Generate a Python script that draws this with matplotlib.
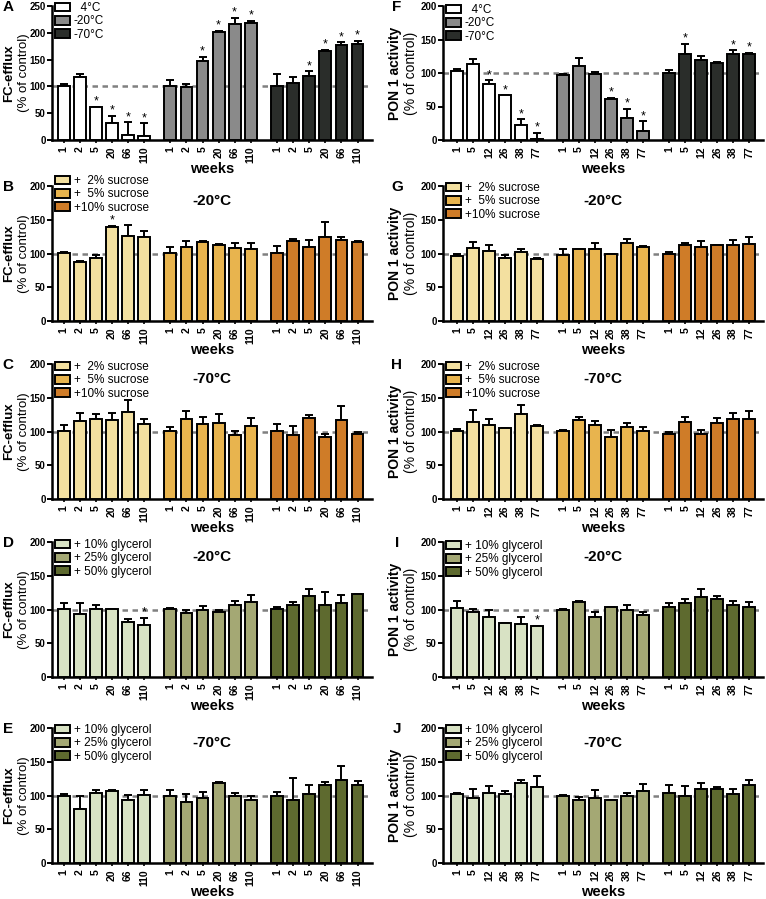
import numpy as np
import matplotlib
matplotlib.use('Agg')
import matplotlib.pyplot as plt
from matplotlib.patches import Patch

plt.rcParams['font.family'] = ['Liberation Sans', 'DejaVu Sans']

# ---------------- data ----------------
weeks_fc = ['1', '2', '5', '20', '66', '110']
weeks_pon = ['1', '5', '12', '26', '38', '77']

temp_labels = ['  4°C', '-20°C', '-70°C']
sucrose_labels = ['+  2% sucrose', '+  5% sucrose', '+10% sucrose']
glycerol_labels = ['+ 10% glycerol', '+ 25% glycerol', '+ 50% glycerol']

# Panel A: FC-efflux, storage temperature
a_4c = [101, 117, 62, 31, 10, 8]
a_4c_err = [3, 6, 0, 14, 23, 23]
a_4c_sig = [0, 0, 1, 1, 1, 1]
a_m20 = [101, 98, 148, 201, 216, 219]
a_m20_err = [11, 7, 7, 3, 12, 3]
a_m20_sig = [0, 0, 1, 1, 1, 1]
a_m70 = [101, 107, 120, 166, 178, 180]
a_m70_err = [22, 10, 8, 2, 4, 5]
a_m70_sig = [0, 0, 1, 1, 1, 1]

# Panel F: PON1 activity, storage temperature
f_4c = [103, 113, 84, 67, 22, 2]
f_4c_err = [3, 8, 5, 0, 9, 9]
f_4c_sig = [0, 0, 1, 1, 1, 1]
f_m20 = [97, 110, 99, 61, 33, 14]
f_m20_err = [2, 12, 2, 2, 14, 14]
f_m20_sig = [0, 0, 0, 1, 1, 1]
f_m70 = [100, 129, 119, 115, 128, 128]
f_m70_err = [5, 15, 7, 1, 6, 2]
f_m70_sig = [0, 1, 0, 0, 1, 1]

# Panel B: FC-efflux, -20°C, sucrose
b_s2 = [101, 88, 93, 140, 126, 124]
b_s2_err = [1, 1, 5, 1, 16, 10]
b_s2_sig = [0, 0, 0, 1, 0, 0]
b_s5 = [101, 110, 117, 113, 108, 106]
b_s5_err = [8, 8, 1, 1, 8, 9]
b_s10 = [101, 119, 110, 125, 120, 117]
b_s10_err = [10, 2, 10, 22, 4, 2]

# Panel G: PON1, -20°C, sucrose
g_s2 = [96, 108, 103, 94, 102, 92]
g_s2_err = [4, 9, 10, 4, 5, 1]
g_s5 = [98, 106, 107, 99, 115, 109]
g_s5_err = [8, 1, 9, 1, 6, 2]
g_s10 = [100, 113, 110, 113, 113, 114]
g_s10_err = [2, 3, 9, 0, 7, 11]

# Panel C: FC-efflux, -70°C, sucrose
c_s2 = [101, 115, 119, 117, 129, 111]
c_s2_err = [8, 13, 7, 10, 17, 8]
c_s5 = [101, 119, 111, 113, 95, 108]
c_s5_err = [5, 11, 10, 13, 6, 12]
c_s10 = [101, 95, 120, 92, 117, 97]
c_s10_err = [10, 13, 4, 5, 21, 3]

# Panel H: PON1, -70°C, sucrose
h_s2 = [101, 114, 109, 105, 126, 108]
h_s2_err = [3, 18, 9, 0, 13, 1]
h_s5 = [101, 117, 109, 92, 107, 101]
h_s5_err = [1, 5, 6, 10, 6, 6]
h_s10 = [97, 114, 96, 113, 119, 119]
h_s10_err = [2, 8, 6, 7, 9, 12]

# Panel D: FC-efflux, -20°C, glycerol
d_g10 = [101, 93, 101, 101, 81, 77]
d_g10_err = [8, 17, 6, 0, 5, 11]
d_g10_sig = [0, 0, 0, 0, 0, 1]
d_g25 = [101, 95, 99, 96, 107, 111]
d_g25_err = [1, 4, 6, 4, 6, 10]
d_g50 = [101, 106, 120, 106, 110, 123]
d_g50_err = [3, 5, 10, 20, 11, 0]

# Panel I: PON1, -20°C, glycerol
i_g10 = [102, 97, 89, 80, 78, 75]
i_g10_err = [11, 4, 11, 0, 11, 1]
i_g10_sig = [0, 0, 0, 0, 0, 1]
i_g25 = [100, 111, 89, 103, 99, 92]
i_g25_err = [1, 1, 7, 1, 8, 5]
i_g50 = [103, 110, 119, 116, 107, 104]
i_g50_err = [7, 5, 11, 4, 6, 7]

# Panel E: FC-efflux, -70°C, glycerol
e_g10 = [100, 80, 103, 106, 93, 101]
e_g10_err = [2, 20, 5, 2, 8, 7]
e_g25 = [100, 90, 97, 118, 100, 93]
e_g25_err = [8, 12, 8, 2, 4, 6]
e_g50 = [100, 93, 102, 116, 123, 115]
e_g50_err = [5, 33, 13, 4, 20, 7]

# Panel J: PON1, -70°C, glycerol
j_g10 = [102, 96, 103, 102, 119, 113]
j_g10_err = [2, 14, 11, 4, 4, 16]
j_g25 = [100, 93, 96, 93, 100, 106]
j_g25_err = [1, 5, 12, 0, 3, 11]
j_g50 = [104, 100, 110, 110, 102, 115]
j_g50_err = [12, 14, 8, 3, 7, 8]

no_sig = [0, 0, 0, 0, 0, 0]

# ---------------- styles ----------------
temp_colors = ['#ffffff', '#8a8a8a', '#2a2d2a']
sucrose_colors = ['#f3e0a0', '#e8b44e', '#cf7c28']
glycerol_colors = ['#d8e2c4', '#a4a874', '#5e6a2f']

W, H = 766, 899
fig = plt.figure(figsize=(W / 100, H / 100), dpi=100)

LEFT = dict(x0=52, x1=372, xlim=(-0.72, 19.2), lab=(-43, -28.5), ylab='FC-efflux', ylab_fs=9.5,
            ctl_fs=9.5, weeks=weeks_fc, letter_x=-44)
RIGHT = dict(x0=443, x1=763, xlim=(-0.88, 19.17), lab=(-48, -32), ylab='PON 1 activity', ylab_fs=10,
             ctl_fs=10, weeks=weeks_pon, letter_x=-46)
rows = [(6, 140), (186, 321), (364, 499), (542, 677), (728, 863)]
offsets = [0, 6.65, 13.3]

panels = [
    (LEFT, 0, 'A', 250, None, temp_labels, temp_colors,
     [(a_4c, a_4c_err, a_4c_sig), (a_m20, a_m20_err, a_m20_sig), (a_m70, a_m70_err, a_m70_sig)], 2),
    (RIGHT, 0, 'F', 200, None, temp_labels, temp_colors,
     [(f_4c, f_4c_err, f_4c_sig), (f_m20, f_m20_err, f_m20_sig), (f_m70, f_m70_err, f_m70_sig)], 4),
    (LEFT, 1, 'B', 200, '-20°C', sucrose_labels, sucrose_colors,
     [(b_s2, b_s2_err, b_s2_sig), (b_s5, b_s5_err, no_sig), (b_s10, b_s10_err, no_sig)], -5),
    (RIGHT, 1, 'G', 200, '-20°C', sucrose_labels, sucrose_colors,
     [(g_s2, g_s2_err, no_sig), (g_s5, g_s5_err, no_sig), (g_s10, g_s10_err, no_sig)], 2),
    (LEFT, 2, 'C', 200, '-70°C', sucrose_labels, sucrose_colors,
     [(c_s2, c_s2_err, no_sig), (c_s5, c_s5_err, no_sig), (c_s10, c_s10_err, no_sig)], 3),
    (RIGHT, 2, 'H', 200, '-70°C', sucrose_labels, sucrose_colors,
     [(h_s2, h_s2_err, no_sig), (h_s5, h_s5_err, no_sig), (h_s10, h_s10_err, no_sig)], 3),
    (LEFT, 3, 'D', 200, '-20°C', glycerol_labels, glycerol_colors,
     [(d_g10, d_g10_err, d_g10_sig), (d_g25, d_g25_err, no_sig), (d_g50, d_g50_err, no_sig)], 3),
    (RIGHT, 3, 'I', 200, '-20°C', glycerol_labels, glycerol_colors,
     [(i_g10, i_g10_err, i_g10_sig), (i_g25, i_g25_err, no_sig), (i_g50, i_g50_err, no_sig)], 4),
    (LEFT, 4, 'E', 200, '-70°C', glycerol_labels, glycerol_colors,
     [(e_g10, e_g10_err, no_sig), (e_g25, e_g25_err, no_sig), (e_g50, e_g50_err, no_sig)], 2),
    (RIGHT, 4, 'J', 200, '-70°C', glycerol_labels, glycerol_colors,
     [(j_g10, j_g10_err, no_sig), (j_g25, j_g25_err, no_sig), (j_g50, j_g50_err, no_sig)], 2),
]

for col, r, letter, ymax, title, leg_labels, colors, groups, leg_below in panels:
    top, bot = rows[r]
    x0, x1 = col['x0'], col['x1']
    ax = fig.add_axes([x0 / W, 1 - bot / H, (x1 - x0) / W, (bot - top) / H])
    axw, axh = x1 - x0, bot - top

    ax.axhline(100, color='#808080', lw=1.8, ls=(0, (2.2, 1.8)), zorder=1)

    xt = []
    for g, (vals, errs, sig) in enumerate(groups):
        x = np.arange(len(vals)) + offsets[g]
        xt.extend(x)
        vals = np.asarray(vals, float)
        errs = np.asarray(errs, float)
        ax.bar(x, vals, width=0.74, color=colors[g], edgecolor='black', linewidth=1.4, zorder=3)
        ax.errorbar(x, vals, yerr=[np.zeros_like(errs), errs], fmt='none', ecolor='black',
                    elinewidth=1.4, capsize=2.8, capthick=1.4, zorder=2)
        for xi, v, e, s in zip(x, vals, errs, sig):
            if s:
                ax.annotate('*', (xi, v + e), xytext=(0, 1.5), textcoords='offset points',
                            ha='center', va='baseline', fontsize=9, zorder=5)

    ax.set_xlim(*col['xlim'])
    ax.set_ylim(0, ymax)
    ax.set_yticks(np.arange(0, ymax + 1, 50))
    ax.set_xticks(xt)
    ax.set_xticklabels(col['weeks'] * 3, rotation=90, fontsize=7.5, fontweight='bold')
    for lab in ax.get_yticklabels():
        lab.set_fontsize(7)
        lab.set_fontweight('bold')
    ax.tick_params(axis='y', length=3.5, width=1.4, pad=1)
    ax.tick_params(axis='x', length=2.5, width=1.2, pad=2)
    for s in ['top', 'right']:
        ax.spines[s].set_visible(False)
    for s in ['left', 'bottom']:
        ax.spines[s].set_linewidth(1.8)

    # y labels
    ax.text(col['lab'][0] / axw, 0.5, col['ylab'], transform=ax.transAxes, rotation=90,
            ha='center', va='center', fontsize=col['ylab_fs'], fontweight='bold')
    ax.text(col['lab'][1] / axw, 0.5, '(% of control)', transform=ax.transAxes, rotation=90,
            ha='center', va='center', fontsize=col['ctl_fs'])
    # panel letter
    ax.text(col['letter_x'] / axw, 1 - 1 / axh, letter, transform=ax.transAxes,
            ha='center', va='center', fontsize=11, fontweight='bold')
    # weeks
    ax.text(0.5, -29 / axh, 'weeks', transform=ax.transAxes, ha='center', va='center',
            fontsize=10.5, fontweight='bold')
    # condition title
    if title:
        ax.text(0.5, 1 - 15 / axh, title, transform=ax.transAxes, ha='center', va='center',
                fontsize=11, fontweight='bold')

    handles = [Patch(facecolor=c, edgecolor='black', linewidth=1.4) for c in colors]
    ax.legend(handles, leg_labels, loc='upper left',
              bbox_to_anchor=(3 / axw, 1 + (6 - leg_below) / axh),
              frameon=False, fontsize=8.5, handlelength=1.25, handleheight=0.75,
              handletextpad=0.35, labelspacing=0.12, borderpad=0, borderaxespad=0)

fig.savefig('out.png', dpi=100)
